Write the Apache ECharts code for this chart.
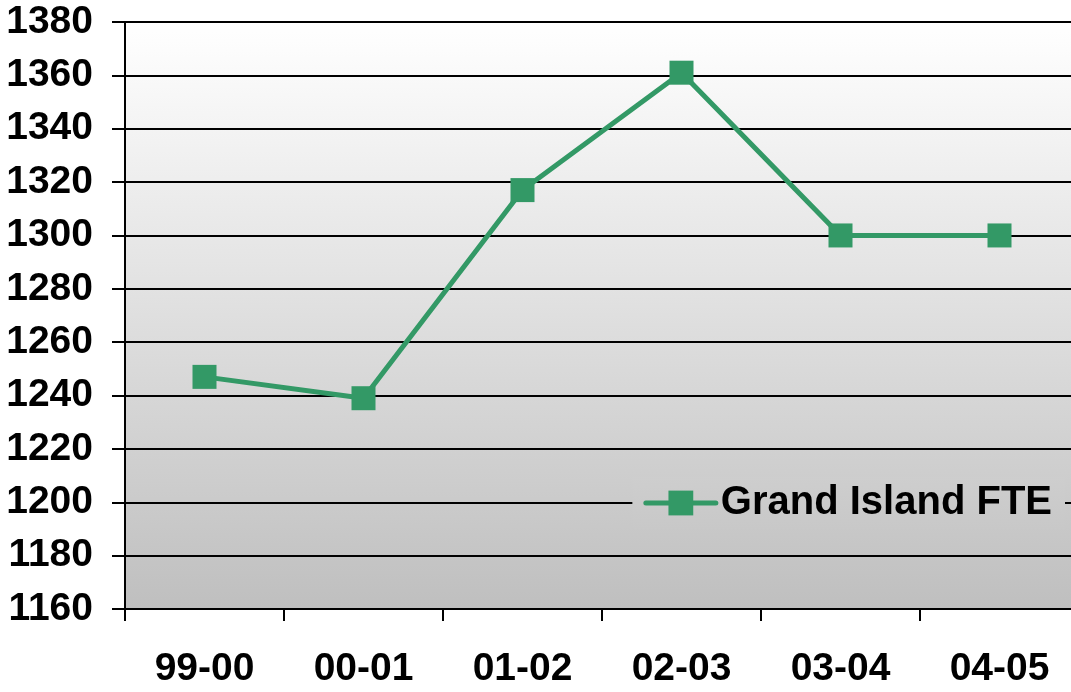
<!DOCTYPE html>
<html>
<head>
<meta charset="utf-8">
<script src="https://cdn.jsdelivr.net/npm/echarts@6/dist/echarts.min.js"></script>
<style>
  html, body { margin: 0; padding: 0; background: #ffffff; overflow: hidden; }
  #chart { width: 1071px; height: 692px; }
</style>
</head>
<body>
<div id="chart"></div>
<script>
// School years and full-time-equivalent enrollment
const years = ['99-00', '00-01', '01-02', '02-03', '03-04', '04-05'];
const fteValues = [1247, 1239, 1317, 1361, 1300, 1300];
const seriesName = 'Grand Island FTE';

const yMin = 1160;
const yMax = 1380;
const yStep = 20;

const green = '#339966';
const font = 'Liberation Sans, Arial, sans-serif';

const chart = echarts.init(document.getElementById('chart'), null, { renderer: 'canvas' });

chart.setOption({
  animation: false,
  backgroundColor: '#ffffff',
  grid: {
    // the plot runs slightly past the right edge of the canvas
    left: 125, right: -8, top: 22, bottom: 83,
    containLabel: false,
    outerBoundsMode: 'none',
    show: true,
    borderWidth: 0,
    backgroundColor: {
      type: 'linear', x: 0, y: 0, x2: 0, y2: 1,
      colorStops: [
        { offset: 0, color: '#ffffff' },
        { offset: 1, color: '#bfbfbf' }
      ]
    }
  },
  legend: {
    data: [seriesName],
    right: 6,
    top: 477,
    padding: [6, 13, 6, 11],
    itemWidth: 70,
    itemHeight: 31,
    itemGap: 0,
    // continues the plot-area shading behind the legend box
    backgroundColor: {
      type: 'linear', x: 0, y: 0, x2: 0, y2: 1,
      colorStops: [
        { offset: 0, color: '#cecece' },
        { offset: 1, color: '#c8c8c8' }
      ]
    },
    lineStyle: { width: 5, cap: 'round' },
    textStyle: { fontFamily: font, fontWeight: 'bold', fontSize: 40, color: '#000000' }
  },
  xAxis: {
    type: 'category',
    data: years,
    boundaryGap: true,
    axisLine: { lineStyle: { color: '#000000', width: 2 } },
    axisTick: { show: true, length: 12, lineStyle: { color: '#000000', width: 2 } },
    axisLabel: { margin: 41, fontFamily: font, fontWeight: 'bold', fontSize: 39, color: '#000000' },
    splitLine: { show: false }
  },
  yAxis: {
    type: 'value',
    min: yMin,
    max: yMax,
    interval: yStep,
    axisLine: { show: true, lineStyle: { color: '#000000', width: 2 } },
    axisTick: { show: true, length: 13, lineStyle: { color: '#000000', width: 2 } },
    axisLabel: {
      margin: 32, fontFamily: font, fontWeight: 'bold', fontSize: 39, color: '#000000',
      formatter: (v) => String(v)
    },
    splitLine: { show: true, lineStyle: { color: '#000000', width: 2 } }
  },
  series: [{
    name: seriesName,
    type: 'line',
    data: fteValues,
    symbol: 'rect',
    symbolSize: 24,
    itemStyle: { color: green },
    lineStyle: { color: green, width: 5 },
    z: 5
  }]
});
</script>
</body>
</html>
